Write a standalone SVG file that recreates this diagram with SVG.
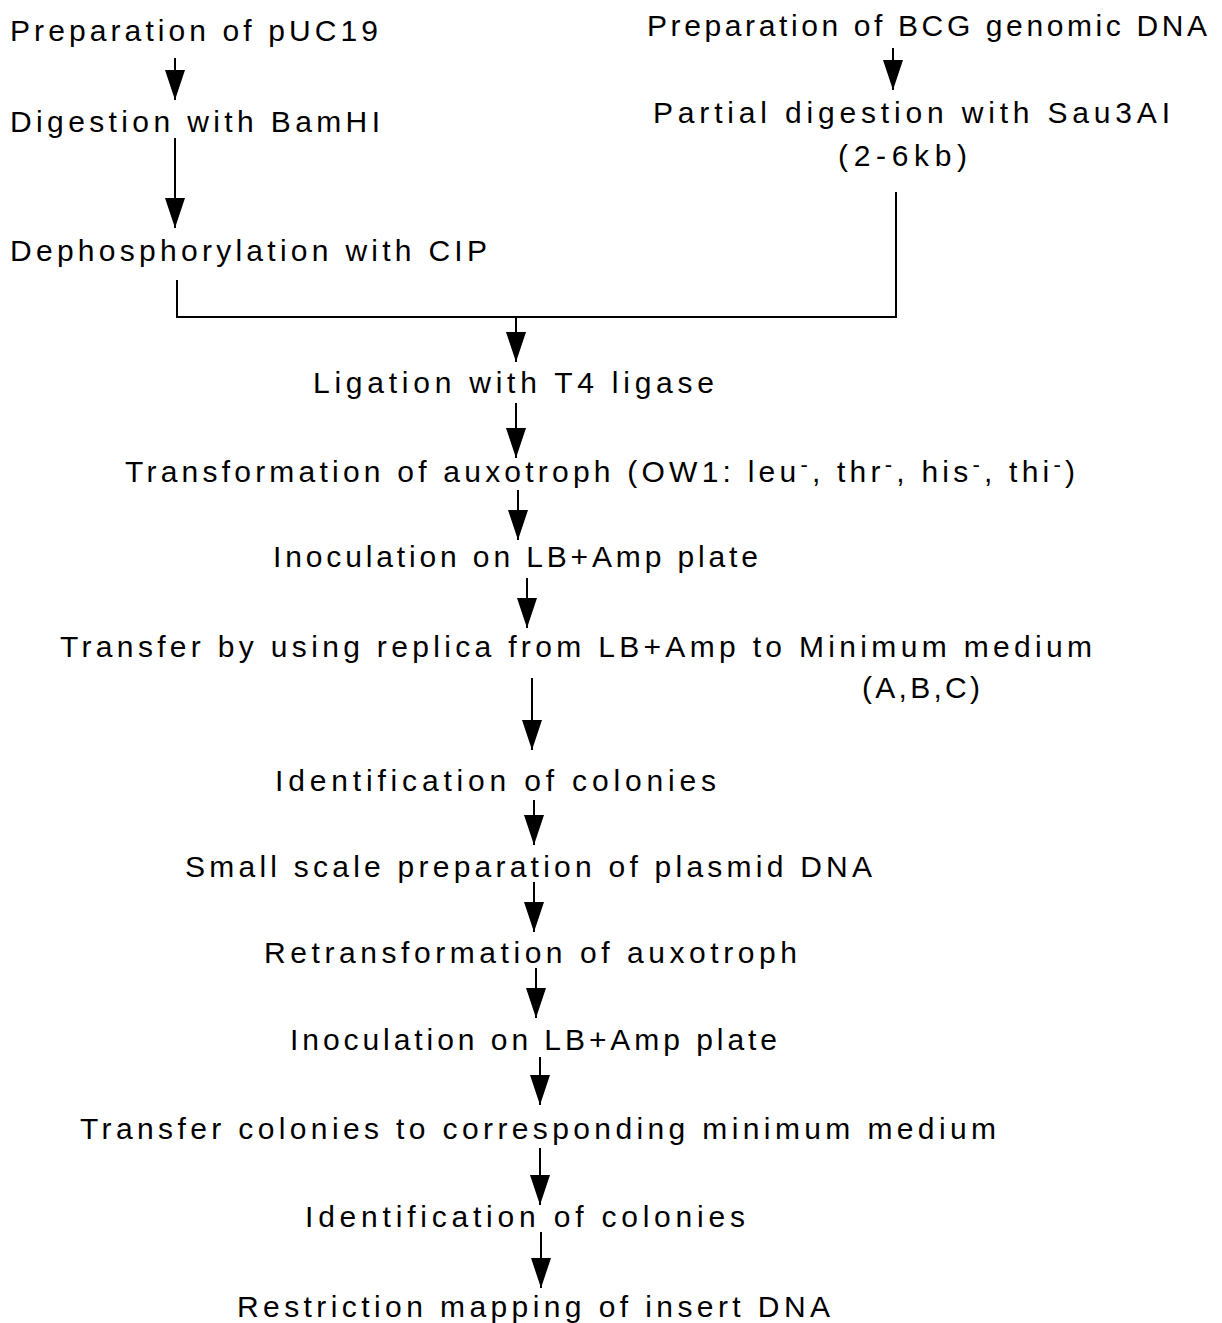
<svg xmlns="http://www.w3.org/2000/svg" width="1222" height="1323" viewBox="0 0 1222 1323">
<style>
text{font-family:"Liberation Sans",Arial,sans-serif;font-size:30px;fill:#000;}
.c{stroke:#000;stroke-width:2;fill:none;}
.sup{font-size:22px;}
</style>
<defs>
<marker id="ah" viewBox="0 0 30 20" markerWidth="30" markerHeight="20" refX="30" refY="10" orient="auto" markerUnits="userSpaceOnUse">
<path d="M0,0 L30,10 L0,20 z" fill="#000"/>
</marker>
</defs>
<rect width="1222" height="1323" fill="#fff"/>
<g id="connectors">
<line class="c" x1="175" y1="58" x2="175" y2="100" marker-end="url(#ah)"/>
<line class="c" x1="175" y1="138" x2="175" y2="228" marker-end="url(#ah)"/>
<line class="c" x1="893" y1="48" x2="893" y2="90" marker-end="url(#ah)"/>
<polyline class="c" points="177,280 177,317 896,317 896,192"/>
<line class="c" x1="516" y1="317" x2="516" y2="362" marker-end="url(#ah)"/>
<line class="c" x1="516" y1="403" x2="516" y2="458" marker-end="url(#ah)"/>
<line class="c" x1="518" y1="490" x2="518" y2="540" marker-end="url(#ah)"/>
<line class="c" x1="527" y1="578" x2="527" y2="628" marker-end="url(#ah)"/>
<line class="c" x1="532" y1="678" x2="532" y2="750" marker-end="url(#ah)"/>
<line class="c" x1="534" y1="800" x2="534" y2="845" marker-end="url(#ah)"/>
<line class="c" x1="534" y1="882" x2="534" y2="932" marker-end="url(#ah)"/>
<line class="c" x1="536" y1="968" x2="536" y2="1018" marker-end="url(#ah)"/>
<line class="c" x1="540" y1="1057" x2="540" y2="1105" marker-end="url(#ah)"/>
<line class="c" x1="540" y1="1148" x2="540" y2="1205" marker-end="url(#ah)"/>
<line class="c" x1="541" y1="1232" x2="541" y2="1288" marker-end="url(#ah)"/>
</g>
<g id="n1"><text x="10" y="41" textLength="368" lengthAdjust="spacing">Preparation of pUC19</text></g>
<g id="n2"><text x="10" y="132" textLength="370" lengthAdjust="spacing">Digestion with BamHI</text></g>
<g id="n3"><text x="10" y="261" textLength="477" lengthAdjust="spacing">Dephosphorylation with CIP</text></g>
<g id="n4"><text x="647" y="36" textLength="560" lengthAdjust="spacing">Preparation of BCG genomic DNA</text></g>
<g id="n5"><text x="653" y="123" textLength="517" lengthAdjust="spacing">Partial digestion with Sau3AI</text><text x="838" y="166" textLength="129" lengthAdjust="spacing">(2-6kb)</text></g>
<g id="n6"><text x="313" y="393" textLength="401" lengthAdjust="spacing">Ligation with T4 ligase</text></g>
<g id="n7"><text x="125" y="482" textLength="950" lengthAdjust="spacing">Transformation of auxotroph (OW1: leu<tspan class="sup" dy="-10">-</tspan><tspan dy="10">, thr</tspan><tspan class="sup" dy="-10">-</tspan><tspan dy="10">, his</tspan><tspan class="sup" dy="-10">-</tspan><tspan dy="10">, thi</tspan><tspan class="sup" dy="-10">-</tspan><tspan dy="10">)</tspan></text></g>
<g id="n8"><text x="273" y="567" textLength="485" lengthAdjust="spacing">Inoculation on LB+Amp plate</text></g>
<g id="n9"><text x="60" y="657" textLength="1032" lengthAdjust="spacing">Transfer by using replica from LB+Amp to Minimum medium</text><text x="862" y="698" textLength="118" lengthAdjust="spacing">(A,B,C)</text></g>
<g id="n10"><text x="275" y="791" textLength="441" lengthAdjust="spacing">Identification of colonies</text></g>
<g id="n11"><text x="185" y="877" textLength="687" lengthAdjust="spacing">Small scale preparation of plasmid DNA</text></g>
<g id="n12"><text x="264" y="963" textLength="533" lengthAdjust="spacing">Retransformation of auxotroph</text></g>
<g id="n13"><text x="290" y="1050" textLength="487" lengthAdjust="spacing">Inoculation on LB+Amp plate</text></g>
<g id="n14"><text x="80" y="1139" textLength="916" lengthAdjust="spacing">Transfer colonies to corresponding minimum medium</text></g>
<g id="n15"><text x="305" y="1227" textLength="440" lengthAdjust="spacing">Identification of colonies</text></g>
<g id="n16"><text x="237" y="1317" textLength="593" lengthAdjust="spacing">Restriction mapping of insert DNA</text></g>
</svg>
